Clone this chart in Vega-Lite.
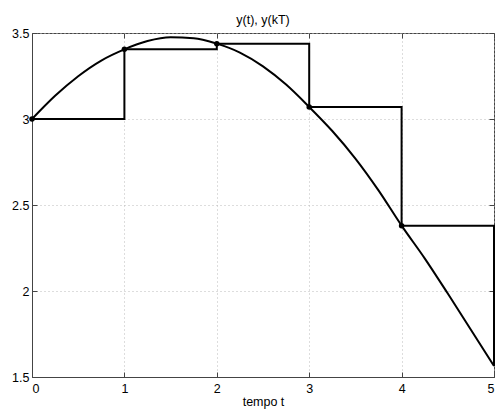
{
  "$schema": "https://vega.github.io/schema/vega-lite/v6.json",
  "width": 462,
  "height": 344,
  "autosize": {"type": "none"},
  "padding": {"left": 32, "top": 33, "right": 2, "bottom": 32},
  "background": "white",
  "config": {
    "font": "Liberation Sans",
    "view": {"stroke": "#444", "strokeWidth": 1},
    "axis": {
      "domainColor": "#444",
      "tickColor": "#444",
      "labelColor": "#000",
      "labelFontSize": 12.5,
      "titleFontSize": 12.5,
      "titleFontWeight": "normal",
      "titleColor": "#000",
      "gridColor": "#bbb",
      "gridDash": [1, 3],
      "gridWidth": 1,
      "tickSize": -5
    }
  },
  "title": {"text": "y(t), y(kT)", "fontSize": 12.5, "fontWeight": "normal", "font": "Liberation Sans", "offset": 1, "color": "#000"},
  "datasets": {
    "curve": [
      {"t": 0, "y": 3.0},
      {"t": 0.25, "y": 3.135},
      {"t": 0.5, "y": 3.249},
      {"t": 0.75, "y": 3.340},
      {"t": 1.0, "y": 3.405},
      {"t": 1.25, "y": 3.453},
      {"t": 1.5, "y": 3.475},
      {"t": 1.75, "y": 3.470},
      {"t": 2.0, "y": 3.438},
      {"t": 2.25, "y": 3.386},
      {"t": 2.5, "y": 3.306},
      {"t": 2.75, "y": 3.200},
      {"t": 3.0, "y": 3.070},
      {"t": 3.25, "y": 2.930},
      {"t": 3.5, "y": 2.770},
      {"t": 3.75, "y": 2.585},
      {"t": 4.0, "y": 2.380},
      {"t": 4.25, "y": 2.190},
      {"t": 4.5, "y": 1.985},
      {"t": 4.75, "y": 1.775},
      {"t": 5.0, "y": 1.564}
    ],
    "stairs": [
      {"k": 0, "y": 3.0},
      {"k": 1, "y": 3.405},
      {"k": 2, "y": 3.438},
      {"k": 3, "y": 3.070},
      {"k": 4, "y": 2.380},
      {"k": 5, "y": 1.564}
    ],
    "samples": [
      {"k": 0, "y": 3.0},
      {"k": 1, "y": 3.405},
      {"k": 2, "y": 3.438},
      {"k": 3, "y": 3.070},
      {"k": 4, "y": 2.380}
    ]
  },
  "resolve": {"axis": {"x": "independent", "y": "independent"}},
  "layer": [
    {
      "data": {"name": "curve"},
      "mark": {"type": "line", "interpolate": "monotone", "color": "#000", "strokeWidth": 2},
      "encoding": {
        "x": {"field": "t", "type": "quantitative", "scale": {"domain": [0, 5], "nice": false},
          "axis": {"title": "tempo t", "values": [0, 1, 2, 3, 4, 5], "format": "d", "grid": true, "labelPadding": 10, "titlePadding": 1}},
        "y": {"field": "y", "type": "quantitative", "scale": {"domain": [1.5, 3.5], "nice": false, "zero": false},
          "axis": {"title": null, "values": [1.5, 2, 2.5, 3, 3.5], "format": "~g", "grid": true, "labelPadding": 8}}
      }
    },
    {
      "data": {"name": "stairs"},
      "mark": {"type": "line", "interpolate": "step-after", "color": "#000", "strokeWidth": 2},
      "encoding": {
        "x": {"field": "k", "type": "quantitative", "axis": null},
        "y": {"field": "y", "type": "quantitative", "axis": null}
      }
    },
    {
      "data": {"name": "samples"},
      "mark": {"type": "point", "filled": true, "color": "#000", "size": 30, "opacity": 1},
      "encoding": {
        "x": {"field": "k", "type": "quantitative",
          "axis": {"orient": "top", "title": null, "labels": false, "domain": false, "grid": false, "values": [0, 1, 2, 3, 4, 5]}},
        "y": {"field": "y", "type": "quantitative",
          "axis": {"orient": "right", "title": null, "labels": false, "domain": false, "grid": false, "values": [1.5, 2, 2.5, 3, 3.5]}}
      }
    }
  ]
}
